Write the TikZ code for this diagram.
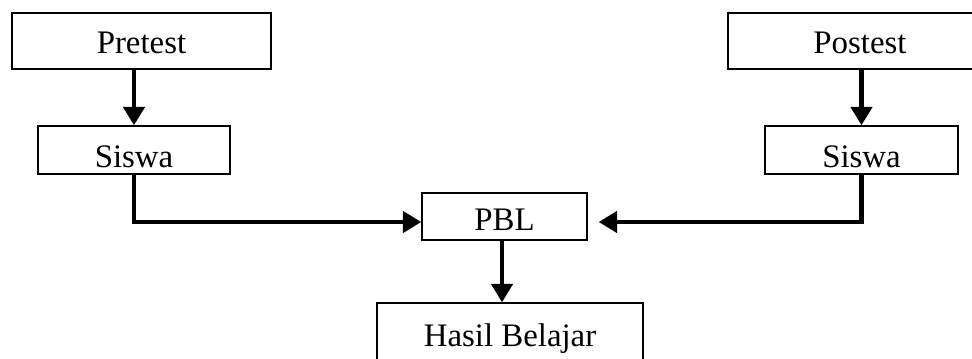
\documentclass[tikz,border=0pt]{standalone}
\usepackage{fontspec}
\setmainfont{Liberation Serif}
\usetikzlibrary{arrows.meta,positioning,calc}

\begin{document}
\begin{tikzpicture}[
    x=0.02cm, y=-0.02cm,
    box/.style={rectangle, draw=black, line width=0.75pt, inner xsep=0pt, inner ysep=0pt, align=center, font=\fontsize{18.7}{20}\selectfont},
    arrow/.style={-{Triangle[length=0.37cm, width=0.42cm]}, line width=2.6pt}
]
\clip (0,0) rectangle (972,358);

% Top row
\node[box, minimum width=5.18cm, text height=0.82cm, text depth=0.3cm] (pretest) at (141.5,41) {Pretest};
\node[box, minimum width=5.28cm, text height=0.82cm, text depth=0.3cm] (postest) at (860,41) {Postest};

% Siswa
\node[box, minimum width=3.84cm, text height=0.84cm, text depth=0.12cm] (siswaA) at (134,150) {Siswa};
\node[box, minimum width=3.86cm, text height=0.84cm, text depth=0.12cm] (siswaB) at (861.5,150) {Siswa};

% PBL
\node[box, minimum width=3.3cm, text height=0.74cm, text depth=0.2cm] (pbl) at (504.5,216.5) {PBL};

% Hasil Belajar
\node[box, minimum width=5.32cm, text height=0.86cm, text depth=2cm] (hasil) at (510,374.5) {Hasil Belajar};

% Arrows
\draw[arrow] (pretest.south -| siswaA.north) -- (siswaA.north);
\draw[arrow] (postest.south -| siswaB.north) -- (siswaB.north);
\draw[arrow] (siswaA.south) |- ([yshift=-0.11cm]pbl.west);
\draw[arrow, shorten >=0.22cm] (siswaB.south) |- ([yshift=-0.11cm]pbl.east);
\draw[arrow] ([xshift=-0.05cm]pbl.south) -- ([xshift=-0.05cm]pbl.south |- hasil.north);

\end{tikzpicture}
\end{document}
